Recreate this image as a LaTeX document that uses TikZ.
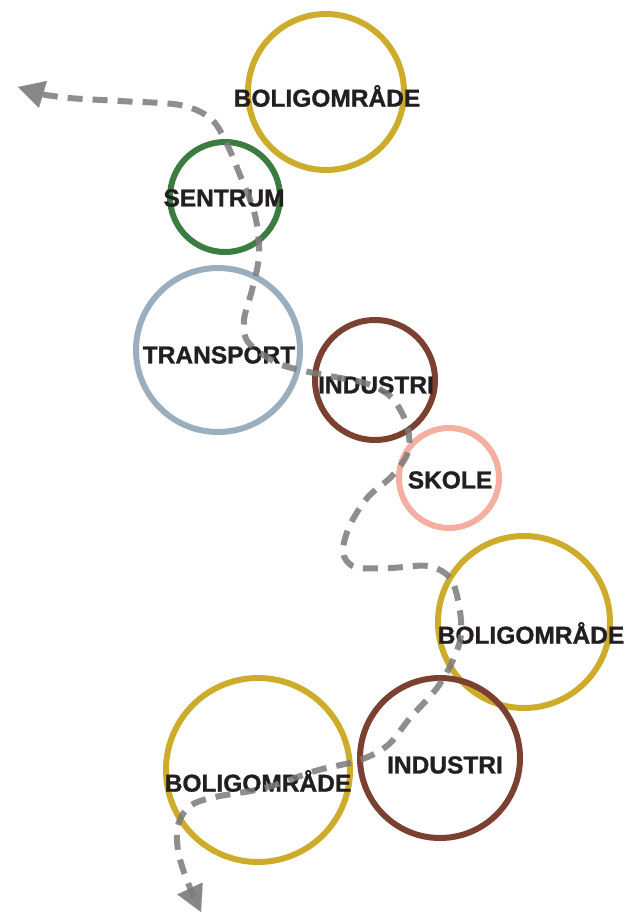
\documentclass[tikz,border=0pt]{standalone}
\usepackage{fontspec}
\setmainfont{Liberation Sans}
\newfontfamily\lblfont[BoldFeatures={FakeBold=1.2}]{Liberation Sans}
\usetikzlibrary{arrows.meta}
\definecolor{gold}{HTML}{CDAC2B}
\definecolor{green}{HTML}{3B7D40}
\definecolor{bluegray}{HTML}{9AAEBE}
\definecolor{brown}{HTML}{7A4030}
\definecolor{salmon}{HTML}{F5AFA0}
\definecolor{ink}{HTML}{231F20}
\definecolor{route}{HTML}{7A7A7A}
\tikzset{
  zone/.style={circle, draw=#1, line width=6pt, inner sep=0pt},
  lbl/.style={font=\lblfont\bfseries\fontsize{24.5}{24.5}\selectfont, text=ink, inner sep=0pt},
  tip/.style={Triangle[length=26pt,width=28pt,line width=0.1pt,fill=route]},
  routeline/.style={draw=route, draw opacity=0.85, fill opacity=0.9, line width=6pt, dash pattern=on 15pt off 10pt,
    {Triangle[length=26pt,width=28pt,line width=0.1pt,fill=route]}-{Triangle[length=26pt,width=28pt,line width=0.1pt,fill=route]}}
}
\begin{document}
\begin{tikzpicture}[x=1pt,y=-1pt]
\useasboundingbox (0,0) rectangle (627,915);
% circles
\node[zone=gold, minimum size=156pt] (b1c) at (326,92) {};
\node[zone=green, minimum size=110pt] (sc) at (225,197) {};
\node[zone=bluegray, minimum size=164pt] (tc) at (218,350) {};
\node[zone=brown, minimum size=120pt] (i1c) at (375,380) {};
\node[zone=salmon, minimum size=100pt] (skc) at (449,478) {};
\node[zone=gold, minimum size=172pt] (b2c) at (524,622) {};
\node[zone=brown, minimum size=160pt] (i2c) at (440,758) {};
\node[zone=gold, minimum size=184pt] (b3c) at (258,770) {};
% labels
\node[lbl] (b1) at (327,96) {BOLIGOMRÅDE};
\node[lbl] (s) at (224,198) {SENTRUM};
\node[lbl] (t) at (219,355) {TRANSPORT};
\node[lbl] (i1) at (376,385) {INDUSTRI};
\node[lbl] (sk) at (450,480) {SKOLE};
\node[lbl] (b2) at (531,633) {BOLIGOMRÅDE};
\node[lbl] (i2) at (445,765) {INDUSTRI};
\node[lbl] (b3) at (258,781) {BOLIGOMRÅDE};
% route
\coordinate (start) at (18,87);
\coordinate (end) at (201,912);
\draw[routeline] plot[smooth, tension=0.55] coordinates {
(start) (60,97) (120,101) (180,105) (210,118) (225,140) (240,175) (255,215) (259,255)
(252,290) (244,320) (248,342) (275,362) (300,370) (335,377) (368,384) (392,398)
(407,425) (408,452) (392,476) (368,497) (350,525) (343,552) (355,567) (390,568)
(428,566) (450,578) (459,605) (461,635) (453,660) (437,688) (410,718) (388,745)
(360,760) (315,771) (265,788) (215,797) (190,806) (178,825) (178,850) (186,878) (end)};
\end{tikzpicture}
\end{document}
